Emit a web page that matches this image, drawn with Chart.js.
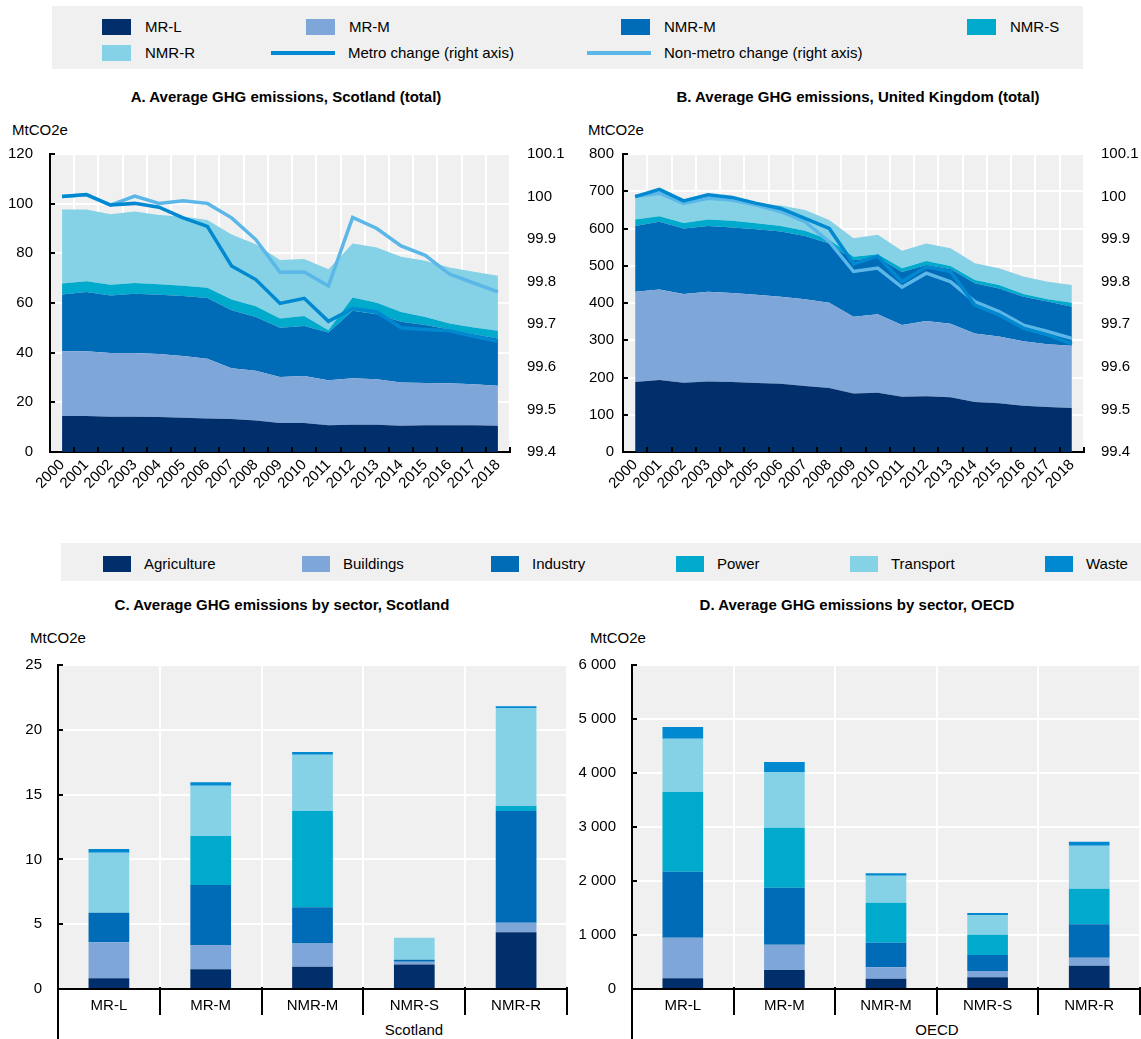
<!DOCTYPE html>
<html>
<head>
<meta charset="utf-8">
<script src="https://cdn.jsdelivr.net/npm/chart.js@4.4.1/dist/chart.umd.min.js"></script>
<style>
  body { margin: 0; background: #fff; font-family: 'Liberation Sans', Arial, sans-serif; color: #000; }
  #page { position: relative; width: 1141px; height: 1039px; overflow: hidden; }
  canvas { position: absolute; }
  .box { position: absolute; background: #f0f0f0; }
  .sw { position: absolute; width: 29px; height: 16px; }
  .ln { position: absolute; width: 64px; height: 4px; }
  .txt { position: absolute; font-size: 15px; line-height: 18px; white-space: nowrap; }
  .ttl { position: absolute; font-size: 15px; line-height: 18px; font-weight: bold; white-space: nowrap; transform: translateX(-50%); }
  .ctr { position: absolute; font-size: 15px; line-height: 18px; white-space: nowrap; transform: translateX(-50%); }
</style>
</head>
<body>
<div id="page">
  <div class="box" style="left:52px;top:6px;width:1031px;height:63px;" id="legendTop"></div>
  <div class="box" style="left:61px;top:543px;width:1080px;height:38px;" id="legendBottom"></div>

  <div class="ttl" style="left:286px;top:88px;">A. Average GHG emissions, Scotland (total)</div>
  <div class="ttl" style="left:858px;top:88px;">B. Average GHG emissions, United Kingdom (total)</div>
  <div class="txt" style="left:12px;top:121px;">MtCO2e</div>
  <div class="txt" style="left:588px;top:121px;">MtCO2e</div>

  <div class="ttl" style="left:282px;top:596px;">C. Average GHG emissions by sector, Scotland</div>
  <div class="ttl" style="left:857px;top:596px;">D. Average GHG emissions by sector, OECD</div>
  <div class="txt" style="left:30px;top:629px;">MtCO2e</div>
  <div class="txt" style="left:590px;top:629px;">MtCO2e</div>
  <div class="ctr" style="left:414px;top:1021px;">Scotland</div>
  <div class="ctr" style="left:937px;top:1021px;">OECD</div>

  <canvas id="chartA" width="570" height="382" style="left:0;top:128px;"></canvas>
  <canvas id="chartB" width="571" height="382" style="left:570px;top:128px;"></canvas>
  <canvas id="chartC" width="570" height="399" style="left:0;top:640px;"></canvas>
  <canvas id="chartD" width="571" height="399" style="left:570px;top:640px;"></canvas>
</div>

<script>
// ---- Data ----
const years = ['2000','2001','2002','2003','2004','2005','2006','2007','2008','2009',
               '2010','2011','2012','2013','2014','2015','2016','2017','2018'];
const regionTypes = ['MR-L', 'MR-M', 'NMR-M', 'NMR-S', 'NMR-R'];
const sectors = ['Agriculture', 'Buildings', 'Industry', 'Power', 'Transport', 'Waste'];
const changeLabels = ['Metro change (right axis)', 'Non-metro change (right axis)'];

// Scotland, total emissions by region type (MtCO2e)
const scoMRL  = [14.5,14.5,14.2,14.2,14.1,13.8,13.5,13.3,12.7,11.7,11.7,10.8,11.0,11.0,10.6,10.8,10.8,10.8,10.6];
const scoMRM  = [26.1,26.1,25.7,25.7,25.4,24.9,24.1,20.4,20.0,18.5,18.9,18.1,18.7,18.3,17.4,17.0,16.9,16.5,16.1];
const scoNMRM = [22.8,23.8,23.1,23.8,23.8,24.1,24.4,23.4,21.7,19.8,20.1,19.2,27.2,26.2,24.4,23.3,21.6,20.1,19.0];
const scoNMRS = [4.5,4.4,4.3,4.4,4.3,4.1,4.1,4.3,4.3,3.8,4.1,0.9,5.3,4.6,4.0,3.3,2.4,2.7,3.1];
const scoNMRR = [29.8,28.9,28.4,28.7,27.8,27.9,27.3,26.2,25.0,23.5,22.9,24.6,21.8,22.2,22.2,22.6,22.6,22.5,22.2];
const scoMetroChange    = [100.0,100.005,99.98,99.984,99.975,99.95,99.93,99.837,99.805,99.749,99.761,99.707,99.737,99.729,99.692,99.688,99.685,99.672,99.66];
const scoNonMetroChange = [100.0,100.004,99.98,100.001,99.984,99.99,99.984,99.95,99.899,99.822,99.823,99.79,99.951,99.925,99.884,99.862,99.818,99.797,99.776];

// United Kingdom, total emissions by region type (MtCO2e)
const ukMRL  = [188,193,186,189,188,185,183,177,172,157,159,148,150,147,134,131,124,121,118];
const ukMRM  = [242,243,238,241,239,237,234,233,229,206,211,193,202,197,184,179,173,168,167];
const ukNMRM = [177,182,176,177,176,176,175,170,159,152,153,142,150,147,135,129,120,115,105];
const ukNMRS = [17,15,15,17,18,16,15,14,10,9,8,10,11,8,9,9,7,6,11];
const ukNMRR = [57,63,52,60,57,53,55,56,53,50,52,47,47,48,45,45,47,47,47];
const ukMetroChange    = [100.0,100.017,99.99,100.004,99.998,99.984,99.972,99.949,99.925,99.842,99.86,99.80,99.835,99.824,99.745,99.722,99.691,99.675,99.654];
const ukNonMetroChange = [100.0,100.008,99.984,99.996,99.992,99.98,99.965,99.941,99.894,99.824,99.832,99.787,99.82,99.80,99.753,99.73,99.698,99.683,99.667];

// Scotland, emissions by sector and region type (MtCO2e)
const scoAgriculture = [0.82,1.52,1.72,1.90,4.37];
const scoBuildings   = [2.78,1.88,1.80,0.20,0.75];
const scoIndustry    = [2.29,4.62,2.78,0.16,8.61];
const scoPower       = [0.00,3.78,7.43,0.00,0.39];
const scoTransport   = [4.63,3.89,4.35,1.70,7.56];
const scoWaste       = [0.28,0.26,0.21,0.00,0.13];

// OECD, emissions by sector and region type (MtCO2e)
const oecdAgriculture = [198,352,191,216,432];
const oecdBuildings   = [753,469,210,117,148];
const oecdIndustry    = [1222,1056,457,297,618];
const oecdPower       = [1475,1111,741,376,660];
const oecdTransport   = [988,1031,500,358,796];
const oecdWaste       = [216,185,43,43,74];

// ---- Styling ----
const regionColors = ['#002f6c', '#7fa6d8', '#006bb6', '#00aacc', '#85d1e5'];
const sectorColors = ['#002f6c', '#7fa6d8', '#006bb6', '#00aacc', '#85d1e5', '#0089d0'];
const changeColors = ['#0089d0', '#5bb7e8'];
const PLOT_BG = '#f0f0f0';

Chart.defaults.font.family = "'Liberation Sans', Arial, sans-serif";
Chart.defaults.font.size = 15;
Chart.defaults.color = '#000';

// ---- Legends (HTML) ----
const topLegendSlots = [[102,19],[306,19],[621,19],[967,19],[102,45],[271,45],[587,45]];
const bottomLegendSlots = [[103,556],[302,556],[491,556],[676,556],[850,556],[1045,556]];
(function buildLegends() {
  const page = document.getElementById('page');
  const add = (cls, style, text) => {
    const d = document.createElement('div');
    d.className = cls; d.setAttribute('style', style);
    if (text) d.textContent = text;
    page.appendChild(d);
  };
  const topItems = regionTypes.map((r, i) => ({label: r, color: regionColors[i], line: false}))
    .concat(changeLabels.map((l, i) => ({label: l, color: changeColors[i], line: true})));
  topItems.forEach((it, i) => {
    const [x, y] = topLegendSlots[i];
    if (it.line) {
      add('ln', `left:${x}px;top:${y + 6}px;background:${it.color};`);
      add('txt', `left:${x + 77}px;top:${y - 1}px;`, it.label);
    } else {
      add('sw', `left:${x}px;top:${y}px;background:${it.color};`);
      add('txt', `left:${x + 43}px;top:${y - 1}px;`, it.label);
    }
  });
  sectors.forEach((s, i) => {
    const [x, y] = bottomLegendSlots[i];
    add('sw', `left:${x}px;top:${y}px;width:28px;background:${sectorColors[i]};`);
    add('txt', `left:${x + 41}px;top:${y - 1}px;`, s);
  });
})();

// ---- Plugins ----
const plotBg = {
  id: 'plotBg',
  beforeDraw(chart) {
    const {ctx, chartArea: a} = chart;
    ctx.save();
    ctx.fillStyle = PLOT_BG;
    ctx.fillRect(a.left, a.top, a.right - a.left, a.bottom - a.top);
    ctx.restore();
  }
};

// Short inward ticks on the value axis, and category boundary marks on the x axis
const axisMarks = {
  id: 'axisMarks',
  afterDraw(chart, args, opts) {
    const {ctx, chartArea: a} = chart;
    const ys = chart.scales.y, xs = chart.scales.x;
    ctx.save();
    ctx.strokeStyle = '#000';
    ctx.lineWidth = 2;
    ctx.beginPath();
    ys.ticks.forEach((t, i) => {
      const py = Math.round(ys.getPixelForTick(i));
      ctx.moveTo(a.left - 1, py);
      ctx.lineTo(a.left + 5, py);
    });
    const n = xs.getLabels().length;
    for (let i = 0; i <= n; i++) {
      const px = Math.round(xs.getPixelForValue(i - 0.5));
      if (opts.dividers) {
        ctx.moveTo(px, a.bottom - 2);
        ctx.lineTo(px, a.bottom + 26);
      } else {
        ctx.moveTo(px, a.bottom);
        ctx.lineTo(px, a.bottom - 5);
      }
    }
    if (opts.dividers) {
      ctx.moveTo(a.left, a.bottom);
      ctx.lineTo(a.left, chart.height);
    }
    ctx.stroke();
    ctx.restore();
  }
};

// ---- Builders ----
function areaSet(label, data, color, first) {
  return {
    type: 'line', label, data, yAxisID: 'y',
    backgroundColor: color, borderColor: 'rgba(0,0,0,0)', borderWidth: 0,
    pointRadius: 0, pointHoverRadius: 0, tension: 0,
    fill: first ? 'origin' : '-1', order: 2
  };
}
function changeSet(label, data, color, order) {
  return {
    type: 'line', label, data, yAxisID: 'y2',
    borderColor: color, backgroundColor: color, borderWidth: 3.5,
    pointRadius: 0, pointHoverRadius: 0, tension: 0, fill: false, order
  };
}
const fmt1 = v => String(Math.round(v * 10) / 10);
const fmtThousands = v => String(Math.round(v)).replace(/\B(?=(\d{3})+(?!\d))/g, ' ');

function totalChart(id, series, metro, nonMetro, yMax, yStep, leftW, rightW, leftPad) {
  const datasets = series.map((d, i) => areaSet(regionTypes[i], d, regionColors[i], i === 0));
  datasets.push(changeSet(changeLabels[1], nonMetro, changeColors[1], 1));
  datasets.push(changeSet(changeLabels[0], metro, changeColors[0], 0));
  return new Chart(document.getElementById(id), {
    type: 'line',
    data: { labels: years, datasets },
    options: {
      responsive: false, animation: false, devicePixelRatio: 1,
      layout: { padding: { top: 26, left: 0, right: 0, bottom: 0 } },
      plugins: { legend: { display: false }, tooltip: { enabled: false }, axisMarks: { dividers: false } },
      scales: {
        x: {
          type: 'category', offset: true,
          grid: { offset: true, color: '#fff', lineWidth: 2, drawTicks: false },
          border: { color: '#000', width: 2 },
          ticks: { autoSkip: false, minRotation: 45, maxRotation: 45, padding: 4 },
          afterFit(s) { s.height = 58; }
        },
        y: {
          stacked: true, min: 0, max: yMax,
          ticks: { stepSize: yStep, padding: leftPad },
          grid: { color: '#fff', lineWidth: 2, drawTicks: false },
          border: { color: '#000', width: 2 },
          afterFit(s) { s.width = leftW; }
        },
        y2: {
          position: 'right', min: 99.4, max: 100.1,
          ticks: { stepSize: 0.1, padding: 17, callback: fmt1 },
          grid: { display: false, drawTicks: false },
          border: { display: false },
          afterFit(s) { s.width = rightW; }
        }
      }
    },
    plugins: [plotBg, axisMarks]
  });
}

function sectorChart(id, series, yMax, yStep, leftW, rightPad, tickFmt) {
  return new Chart(document.getElementById(id), {
    type: 'bar',
    data: {
      labels: regionTypes,
      datasets: series.map((d, i) => ({
        label: sectors[i], data: d, backgroundColor: sectorColors[i],
        borderWidth: 0, barPercentage: 0.4, categoryPercentage: 1.0
      }))
    },
    options: {
      responsive: false, animation: false, devicePixelRatio: 1,
      layout: { padding: { top: 25, left: 0, right: rightPad, bottom: 0 } },
      plugins: { legend: { display: false }, tooltip: { enabled: false }, axisMarks: { dividers: true } },
      scales: {
        x: {
          stacked: true,
          grid: { offset: true, color: '#fff', lineWidth: 2, drawTicks: false },
          border: { color: '#000', width: 2 },
          ticks: { padding: 8, maxRotation: 0 },
          afterFit(s) { s.height = 50; }
        },
        y: {
          stacked: true, min: 0, max: yMax,
          ticks: { stepSize: yStep, padding: 16, callback: tickFmt },
          grid: { color: '#fff', lineWidth: 2, drawTicks: false },
          border: { color: '#000', width: 2 },
          afterFit(s) { s.width = leftW; }
        }
      }
    },
    plugins: [plotBg, axisMarks]
  });
}

// ---- Charts ----
totalChart('chartA', [scoMRL, scoMRM, scoNMRM, scoNMRS, scoNMRR],
           scoMetroChange, scoNonMetroChange, 120, 20, 50, 60, 17);
totalChart('chartB', [ukMRL, ukMRM, ukNMRM, ukNMRS, ukNMRR],
           ukMetroChange, ukNonMetroChange, 800, 100, 53, 57, 9);
sectorChart('chartC', [scoAgriculture, scoBuildings, scoIndustry, scoPower, scoTransport, scoWaste],
            25, 5, 58, 3, v => String(v));
sectorChart('chartD', [oecdAgriculture, oecdBuildings, oecdIndustry, oecdPower, oecdTransport, oecdWaste],
            6000, 1000, 62, 1, fmtThousands);
</script>
</body>
</html>
